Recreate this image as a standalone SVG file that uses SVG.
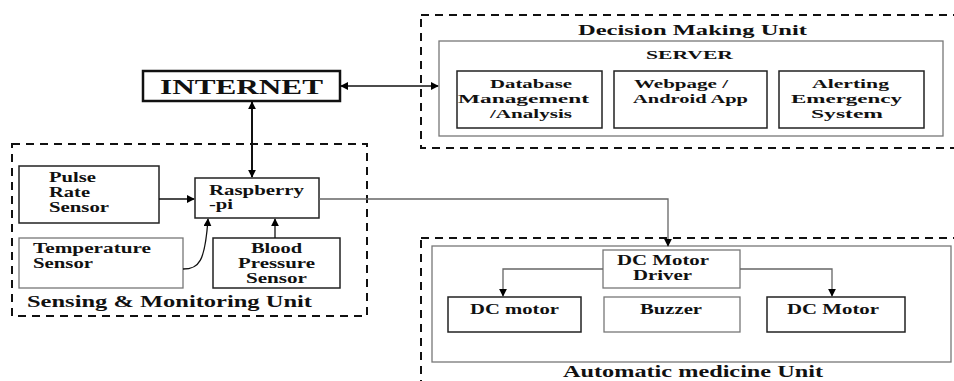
<svg xmlns="http://www.w3.org/2000/svg" width="954" height="381" viewBox="0 0 954 381">
<defs>
<marker id="ah" viewBox="0 0 10 10" refX="9" refY="5" markerWidth="8" markerHeight="8" markerUnits="userSpaceOnUse" orient="auto-start-reverse">
<path d="M0,0 L10,5 L0,10 z" fill="#000"/>
</marker>
<style>
.t{font-family:"Liberation Serif","Times New Roman",serif;font-weight:bold;fill:#111;}
.s13{font-size:13px;}
.s14{font-size:14px;}
.s16{font-size:16px;}
.box{fill:#fff;stroke:#222;stroke-width:1.5;}
.gbox{fill:#fff;stroke:#777;stroke-width:1.3;}
.dash{fill:none;stroke:#111;stroke-width:2;stroke-dasharray:8,6;}
.c{fill:none;stroke:#111;stroke-width:1.3;}
.cg{fill:none;stroke:#666;stroke-width:1.3;}
</style>
</defs>
<rect width="954" height="381" fill="#fff"/>

<g id="decision-unit">
<rect class="dash" x="421" y="15" width="545" height="133"/>
<text class="t s14" x="578" y="35" textLength="229" lengthAdjust="spacingAndGlyphs">Decision Making Unit</text>
</g>
<g id="server">
<rect class="gbox" x="439" y="41" width="504" height="95"/>
<text class="t s13" x="646" y="59" textLength="87" lengthAdjust="spacingAndGlyphs">SERVER</text>
</g>
<g id="database">
<rect class="box" x="457" y="71" width="145" height="57"/>
<text class="t s13" x="490" y="88" textLength="82" lengthAdjust="spacingAndGlyphs">Database</text>
<text class="t s13" x="458" y="103" textLength="131" lengthAdjust="spacingAndGlyphs">Management</text>
<text class="t s13" x="490" y="118" textLength="82" lengthAdjust="spacingAndGlyphs">/Analysis</text>
</g>
<g id="webpage">
<rect class="box" x="614" y="71" width="153" height="57"/>
<text class="t s13" x="634" y="88" textLength="94" lengthAdjust="spacingAndGlyphs">Webpage /</text>
<text class="t s13" x="633" y="103" textLength="115" lengthAdjust="spacingAndGlyphs">Android App</text>
</g>
<g id="alerting">
<rect class="box" x="779" y="71" width="145" height="57"/>
<text class="t s13" x="812" y="88" textLength="77" lengthAdjust="spacingAndGlyphs">Alerting</text>
<text class="t s13" x="791" y="103" textLength="111" lengthAdjust="spacingAndGlyphs">Emergency</text>
<text class="t s13" x="811" y="118" textLength="72" lengthAdjust="spacingAndGlyphs">System</text>
</g>

<g id="internet">
<rect x="143" y="71" width="197" height="30" fill="#fff" stroke="#111" stroke-width="2.5"/>
<text class="t" font-size="21" x="160" y="94" textLength="163" lengthAdjust="spacingAndGlyphs">INTERNET</text>
</g>

<g id="sensing-unit">
<rect class="dash" x="12" y="144" width="355" height="172"/>
<text class="t s16" x="27" y="307" textLength="285" lengthAdjust="spacingAndGlyphs">Sensing &amp; Monitoring Unit</text>
</g>
<g id="pulse">
<rect class="box" x="19" y="166" width="140" height="57"/>
<text class="t s14" x="49" y="182" textLength="47" lengthAdjust="spacingAndGlyphs">Pulse</text>
<text class="t s14" x="49" y="197" textLength="41" lengthAdjust="spacingAndGlyphs">Rate</text>
<text class="t s14" x="49" y="212" textLength="60" lengthAdjust="spacingAndGlyphs">Sensor</text>
</g>
<g id="raspberry">
<rect class="box" x="195" y="178" width="124" height="40"/>
<text class="t s14" x="209" y="195" textLength="95" lengthAdjust="spacingAndGlyphs">Raspberry</text>
<text class="t s14" x="209" y="209" textLength="24" lengthAdjust="spacingAndGlyphs">-pi</text>
</g>
<g id="temperature">
<rect class="gbox" x="19" y="238" width="164" height="50"/>
<text class="t s14" x="33" y="253" textLength="118" lengthAdjust="spacingAndGlyphs">Temperature</text>
<text class="t s14" x="33" y="268" textLength="60" lengthAdjust="spacingAndGlyphs">Sensor</text>
</g>
<g id="blood-pressure">
<rect class="box" x="213" y="238" width="127" height="50"/>
<text class="t s14" x="251" y="253" textLength="51" lengthAdjust="spacingAndGlyphs">Blood</text>
<text class="t s14" x="238" y="268" textLength="77" lengthAdjust="spacingAndGlyphs">Pressure</text>
<text class="t s14" x="246" y="283" textLength="61" lengthAdjust="spacingAndGlyphs">Sensor</text>
</g>

<g id="medicine-unit">
<rect class="dash" x="421" y="238" width="545" height="160"/>
<rect class="gbox" x="432" y="246" width="519" height="116"/>
<text class="t s16" x="563" y="377" textLength="260" lengthAdjust="spacingAndGlyphs">Automatic medicine Unit</text>
</g>
<g id="motor-driver">
<rect class="gbox" x="603" y="250" width="137" height="38"/>
<text class="t s14" x="617" y="265" textLength="92" lengthAdjust="spacingAndGlyphs">DC Motor</text>
<text class="t s14" x="633" y="280" textLength="59" lengthAdjust="spacingAndGlyphs">Driver</text>
</g>
<g id="dc-motor-left">
<rect class="box" x="448" y="297" width="133" height="35"/>
<text class="t s14" x="470" y="314" textLength="89" lengthAdjust="spacingAndGlyphs">DC motor</text>
</g>
<g id="buzzer">
<rect class="gbox" x="604" y="297" width="136" height="35"/>
<text class="t s14" x="640" y="314" textLength="62" lengthAdjust="spacingAndGlyphs">Buzzer</text>
</g>
<g id="dc-motor-right">
<rect class="box" x="767" y="297" width="138" height="35"/>
<text class="t s14" x="787" y="314" textLength="92" lengthAdjust="spacingAndGlyphs">DC Motor</text>
</g>

<g id="connectors">
<path d="M252,102 V177" fill="none" stroke="#111" stroke-width="2" marker-start="url(#ah)" marker-end="url(#ah)"/>
<path class="c" d="M341,86 H438" marker-start="url(#ah)" marker-end="url(#ah)"/>
<path class="c" d="M159,199 H194" marker-end="url(#ah)"/>
<path class="c" d="M183,269 C199,269 205,262 208,219" marker-end="url(#ah)"/>
<path class="c" d="M275,238 V219" marker-end="url(#ah)"/>
<path class="cg" d="M319,199 H668 V246" marker-end="url(#ah)"/>
<path class="cg" d="M603,269 H503 V296" marker-end="url(#ah)"/>
<path class="cg" d="M740,269 H832 V296" marker-end="url(#ah)"/>
</g>
</svg>
